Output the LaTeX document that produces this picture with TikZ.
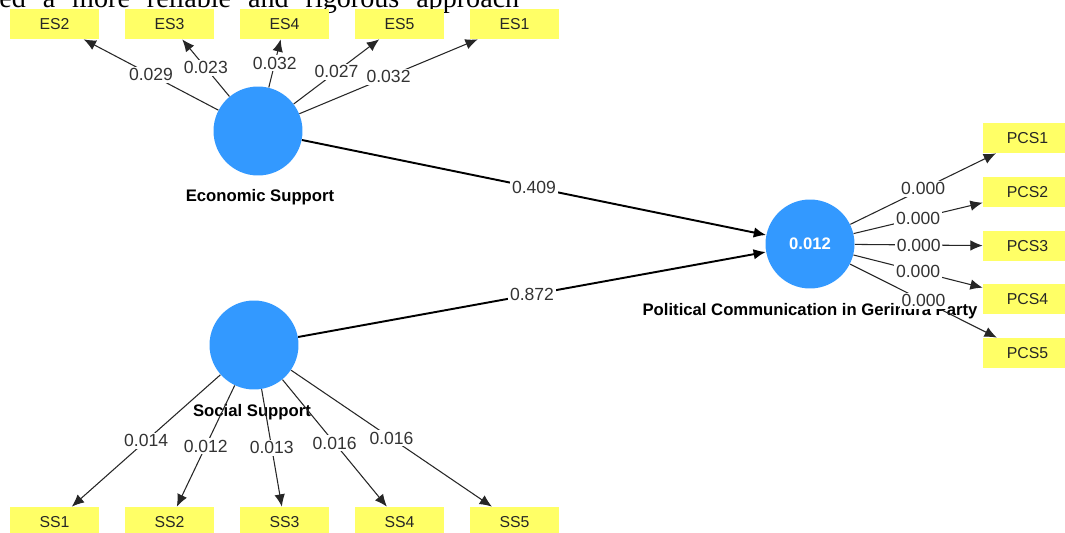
\documentclass[tikz,border=0pt]{standalone}
\usepackage{fontspec}
\setmainfont{Liberation Sans}
\newfontfamily\pagefont{Liberation Serif}
\usetikzlibrary{positioning,calc}
\usetikzlibrary{arrows.meta}
\definecolor{plsblue}{RGB}{51,153,255}
\definecolor{plsyellow}{RGB}{255,255,102}
\tikzstyle{latent} = [circle, minimum size=1.78cm, inner sep=0pt, fill=plsblue]
\tikzstyle{indic} = [rectangle, minimum width=1.78cm, minimum height=0.6cm, inner sep=0pt, fill=plsyellow, text=black!85, font=\fontsize{9}{10}\selectfont]
\tikzstyle{lname} = [inner sep=0pt, font=\bfseries\fontsize{9.5}{11}\selectfont]
\tikzstyle{load} = [line width=0.6pt, draw=black!85, -{Latex[length=7pt,width=6pt]}]
\tikzstyle{struct} = [line width=1.1pt, -{Latex[length=7pt,width=6pt]}]
\tikzstyle{val} = [midway, fill=white, inner sep=1pt, text=black!80, font=\fontsize{10}{12}\selectfont]

\begin{document}
\begin{tikzpicture}[x=0.02cm, y=-0.02cm]
				\useasboundingbox (0,0) rectangle (1065,533);
				\clip (0,0) rectangle (1065,533);
				\fill[white] (0,0) rectangle (1065,533);
				\node[anchor=base west, inner sep=0pt] (page) at (-1,8) {\pagefont\fontsize{16}{19}\selectfont\makebox[10.4cm][s]{ed a more reliable and rigorous approach}};
				% latent variables
				\node (es) at (258,131) [latent] {};
				\node (ss) at (254,345) [latent] {};
				\node (pc) at (810,244) [latent, text=white, font=\bfseries\fontsize{9.5}{11}\selectfont] {0.012};
				\node (esname) at (260,197) [lname] {Economic Support};
				\node (ssname) at (252,412) [lname] {Social Support};
				\node (pcname) at (810,311) [lname] {Political Communication in Gerindra Party};
				% indicators
				\node (es2) at (54.5,24) [indic] {ES2};
				\node (es3) at (169.5,24) [indic] {ES3};
				\node (es4) at (284.5,24) [indic] {ES4};
				\node (es5) at (399.5,24) [indic] {ES5};
				\node (es1) at (514.5,24) [indic] {ES1};
				\node (ss1) at (54.5,522) [indic] {SS1};
				\node (ss2) at (169.5,522) [indic] {SS2};
				\node (ss3) at (284.5,522) [indic] {SS3};
				\node (ss4) at (399.5,522) [indic] {SS4};
				\node (ss5) at (514.5,522) [indic] {SS5};
				\node (pcs1) at (1027.5,138) [indic] {PCS1};
				\node (pcs2) at (1027.5,192) [indic] {PCS2};
				\node (pcs3) at (1027.5,246) [indic] {PCS3};
				\node (pcs4) at (1027.5,299) [indic] {PCS4};
				\node (pcs5) at (1027.5,353) [indic] {PCS5};
				% paths
				\draw[struct] (es) -- (pc) node[val] {0.409};
				\draw[struct] (ss) -- (pc) node[val] {0.872};
				% loadings
				\draw[load] (es) -- (es2) node[val] {0.029};
				\draw[load] (es) -- (es3) node[val] {0.023};
				\draw[load] (es) -- (es4) node[val] {0.032};
				\draw[load] (es) -- (es5) node[val] {0.027};
				\draw[load] (es) -- (es1) node[val] {0.032};
				\draw[load] (ss) -- (ss1) node[val] {0.014};
				\draw[load] (ss) -- (ss2) node[val] {0.012};
				\draw[load] (ss) -- (ss3) node[val] {0.013};
				\draw[load] (ss) -- (ss4) node[val] {0.016};
				\draw[load] (ss) -- (ss5) node[val] {0.016};
				\draw[load] (pc) -- (pcs1) node[val] {0.000};
				\draw[load] (pc) -- (pcs2) node[val] {0.000};
				\draw[load] (pc) -- (pcs3) node[val] {0.000};
				\draw[load] (pc) -- (pcs4) node[val] {0.000};
				\draw[load] (pc) -- (pcs5) node[val] {0.000};
\end{tikzpicture}
\end{document}
